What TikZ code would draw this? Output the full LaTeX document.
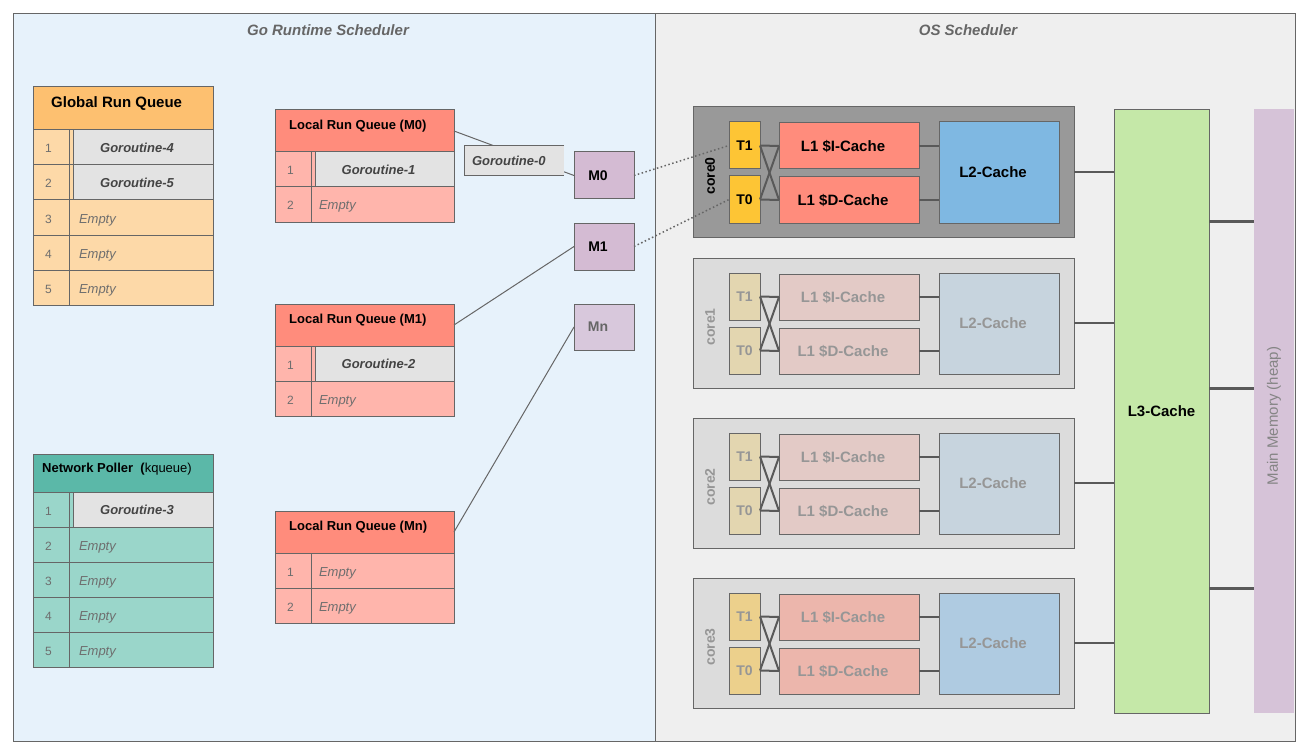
\documentclass[tikz,border=0pt]{standalone}
\usepackage{fontspec}
\setmainfont{Liberation Sans}

\definecolor{linegray}{HTML}{666666}
\definecolor{darkline}{HTML}{595959}
\definecolor{gobg}{HTML}{E7F2FB}
\definecolor{osbg}{HTML}{EFEFEF}
\definecolor{titlegray}{HTML}{666666}
\definecolor{numgray}{HTML}{6E6E6E}
\definecolor{gortext}{HTML}{444444}
\definecolor{gorgray}{HTML}{E3E3E3}
\definecolor{grqhead}{HTML}{FDC070}
\definecolor{grqrow}{HTML}{FDD9A8}
\definecolor{lrqhead}{HTML}{FF8C7C}
\definecolor{lrqrow}{HTML}{FFB5AC}
\definecolor{nphead}{HTML}{5BB8A8}
\definecolor{nprow}{HTML}{9AD6CA}
\definecolor{mpurple}{HTML}{D4BBD3}
\definecolor{mnpurple}{HTML}{D8C8DC}
\definecolor{coredark}{HTML}{999999}
\definecolor{corelight}{HTML}{DCDCDC}
\definecolor{tyel}{HTML}{FDC535}
\definecolor{tfade}{HTML}{E3D6B0}
\definecolor{tmid}{HTML}{ECD08C}
\definecolor{lred}{HTML}{FF8C7C}
\definecolor{lfade}{HTML}{E3CAC6}
\definecolor{lmid}{HTML}{ECB6AC}
\definecolor{bblue}{HTML}{7FB8E2}
\definecolor{bfade}{HTML}{C7D4DE}
\definecolor{bmid}{HTML}{AFCBE1}
\definecolor{fadetext}{HTML}{969696}
\definecolor{lthree}{HTML}{C5E8A8}
\definecolor{memc}{HTML}{D6C3D8}
\definecolor{memtext}{HTML}{858585}

\tikzset{
  box/.style={draw=linegray, line width=1pt, inner sep=0pt, outer sep=0pt, anchor=north west},
  padr/.style={execute at end node={\hspace*{12pt}}},
  head/.style={anchor=west, inner sep=0pt, font=\bfseries\fontsize{13}{15}\selectfont},
  numcell/.style={box, minimum width=36pt, minimum height=35pt, text width=12pt, align=left,
    text height=11pt, text depth=0pt, text=numgray, font=\fontsize{12}{14}\selectfont},
  emptycell/.style={box, minimum width=144pt, minimum height=35pt, text width=124pt, align=left,
    text height=11pt, text depth=0pt, text=numgray, font=\itshape\fontsize{13}{15}\selectfont},
  gorcell/.style={box, fill=gorgray, minimum width=140pt, minimum height=35pt, padr,
    text=gortext, font=\bfseries\itshape\fontsize{13}{15}\selectfont},
  mbox/.style={box, fill=mpurple, minimum width=60pt, minimum height=47pt, padr,
    font=\bfseries\fontsize{14}{16}\selectfont},
  thread/.style={box, minimum width=31pt, minimum height=47pt, font=\bfseries\fontsize{14}{16}\selectfont},
  lone/.style={box, minimum width=140pt, minimum height=46pt, padr, font=\bfseries\fontsize{15}{17}\selectfont},
  ltwo/.style={box, minimum width=120pt, minimum height=101pt, padr, font=\bfseries\fontsize{15}{17}\selectfont},
  wire/.style={draw=linegray, line width=1pt},
  link/.style={draw=darkline, line width=2pt},
  bus/.style={draw=darkline, line width=3pt},
  paneltitle/.style={text=titlegray, font=\bfseries\itshape\fontsize{15}{17}\selectfont},
}

\begin{document}
\begin{tikzpicture}[x=1pt, y=-1pt]
  \useasboundingbox (0,0) rectangle (1303,754);
  % Paneles
  \node[box, fill=gobg, minimum width=642pt, minimum height=727pt] (gopanel) at (13,14) {};
  \node[box, fill=osbg, minimum width=640pt, minimum height=727pt] (ospanel) at (655,14) {};
  \node[paneltitle] (gotitle) at (328,30) {Go Runtime Scheduler};
  \node[paneltitle] (ostitle) at (968,30) {OS Scheduler};

  % Global run queue
  \node[box, fill=grqhead, minimum width=180pt, minimum height=43pt] (grq) at (33,87) {};
  \node[head, font=\bfseries\fontsize{15}{17}\selectfont] (grq-title) at (51,103.5) {Global Run Queue};
  \foreach \i/\y/\g in {1/130/4, 2/165/5} {
    \node[box, fill=grqrow, minimum width=180pt, minimum height=35pt] (grq-r\i) at (33,\y) {};
    \node[numcell] (grq-n\i) at (33,\y) {\i};
    \node[gorcell] (grq-g\i) at (73,\y) {Goroutine-\g};
  }
  \foreach \i/\y in {3/200, 4/235, 5/270} {
    \node[numcell, fill=grqrow] (grq-n\i) at (33,\y) {\i};
    \node[emptycell, fill=grqrow] (grq-e\i) at (69,\y) {Empty};
  }

  % Network poller
  \node[box, fill=nphead, minimum width=180pt, minimum height=38pt] (np) at (33,454) {};
  \node[head, font=\fontsize{13}{15}\selectfont] (np-title) at (42,469) {\textbf{Network Poller\ \ (}kqueue)};
  \node[box, fill=nprow, minimum width=180pt, minimum height=35pt] (np-r1) at (33,492) {};
  \node[numcell] (np-n1) at (33,492) {1};
  \node[gorcell] (np-g1) at (73,492) {Goroutine-3};
  \foreach \i/\y in {2/527, 3/562, 4/597, 5/632} {
    \node[numcell, fill=nprow] (np-n\i) at (33,\y) {\i};
    \node[emptycell, fill=nprow] (np-e\i) at (69,\y) {Empty};
  }

  % Local run queues
  \foreach \q/\y in {0/110, 1/304, n/511} {
    \node[box, fill=lrqhead, minimum width=179pt, minimum height=42pt] (lrq\q) at (275,\y) {};
    \node[head] (lrq\q-title) at (289,\y+16) {Local Run Queue (M\q)};
    \node[numcell, fill=lrqrow] (lrq\q-n2) at (275,\y+77) {2};
    \node[emptycell, fill=lrqrow, minimum width=143pt, text width=127pt] (lrq\q-e2) at (311,\y+77) {Empty};
  }
  \node[box, fill=lrqrow, minimum width=179pt, minimum height=35pt] (lrq0-r1) at (275,152) {};
  \node[numcell] (lrq0-n1) at (275,152) {1};
  \node[gorcell, minimum width=139pt] (lrq0-g1) at (315,152) {Goroutine-1};
  \node[box, fill=lrqrow, minimum width=179pt, minimum height=35pt] (lrq1-r1) at (275,346) {};
  \node[numcell] (lrq1-n1) at (275,346) {1};
  \node[gorcell, minimum width=139pt] (lrq1-g1) at (315,346) {Goroutine-2};
  \node[numcell, fill=lrqrow] (lrqn-n1) at (275,553) {1};
  \node[emptycell, fill=lrqrow, minimum width=143pt, text width=127pt] (lrqn-e1) at (311,553) {Empty};

  % Maquinas
  \node[mbox] (m0) at (574,152) {M0};
  \node[mbox] (m1) at (574,223) {M1};
  \node[mbox, fill=mnpurple, minimum height=46pt, text=linegray] (mn) at (574,304) {Mn};
  \draw[wire] (lrq0.east) -- (m0.west);
  \draw[wire] (lrq1.east) -- (m1.west);
  \draw[wire] (lrqn.east) -- (mn.west);
  \node[box, draw=none, fill=gorgray, minimum width=100pt, minimum height=30pt, text width=84pt, align=left,
    text=gortext, font=\bfseries\itshape\fontsize{13}{15}\selectfont] (g0) at (464,146) {Goroutine-0};
  \draw[wire] (g0.north east) -- (g0.north west) -- (g0.south west) -- (g0.south east);

  % L3 y memoria principal
  \node[box, fill=lthree, minimum width=95pt, minimum height=603pt, font=\bfseries\fontsize{15}{17}\selectfont] (l3) at (1114,110) {L3-Cache};
  \node[box, draw=none, fill=memc, minimum width=40pt, minimum height=604pt] (mem) at (1254,109) {};
  \node[rotate=90, text=memtext, font=\fontsize{15}{17}\selectfont] (mem-title) at (1274,416) {Main Memory (heap)};
  \foreach \yy in {221, 388, 588}
    \draw[bus] (l3.east |- 0,\yy) -- (mem.west |- 0,\yy);

  % Nucleos
  \foreach \c/\y/\bg/\tc/\lc/\bc/\tx in {0/107/coredark/tyel/lred/bblue/black,
      1/258/corelight/tfade/lfade/bfade/fadetext, 2/418/corelight/tfade/lfade/bfade/fadetext,
      3/578/corelight/tmid/lmid/bmid/fadetext} {
    \node[box, fill=\bg, minimum width=381pt, minimum height=130pt] (core\c) at (693,\y) {};
    \node[rotate=90, text=\tx, font=\bfseries\fontsize{14}{16}\selectfont] (core\c-title) at (710,\y+69) {core\c};
    \node[thread, fill=\tc, text=\tx] (t1-\c) at (729,\y+15) {T1};
    \node[thread, fill=\tc, text=\tx] (t0-\c) at (729,\y+69) {T0};
    \node[lone, fill=\lc, text=\tx] (li-\c) at (779,\y+16) {L1 \$I-Cache};
    \node[lone, fill=\lc, text=\tx] (ld-\c) at (779,\y+70) {L1 \$D-Cache};
    \node[ltwo, fill=\bc, text=\tx] (l2-\c) at (939,\y+15) {L2-Cache};
    \draw[link] (t1-\c.east) -- (li-\c.west);
    \draw[link] (t1-\c.east) -- (ld-\c.west);
    \draw[link] (t0-\c.east) -- (li-\c.west);
    \draw[link] (t0-\c.east) -- (ld-\c.west);
    \draw[link] (li-\c.east) -- (li-\c.east -| l2-\c.west);
    \draw[link] (ld-\c.east) -- (ld-\c.east -| l2-\c.west);
    \draw[link] (core\c.east) -- (core\c.east -| l3.west);
  }

  % Hilos del sistema
  \draw[wire, line width=1.5pt, dash pattern=on 1.5pt off 2.5pt] (m0.east) -- (t1-0.west);
  \draw[wire, line width=1.5pt, dash pattern=on 1.5pt off 2.5pt] (m1.east) -- (t0-0.west);
\end{tikzpicture}
\end{document}
